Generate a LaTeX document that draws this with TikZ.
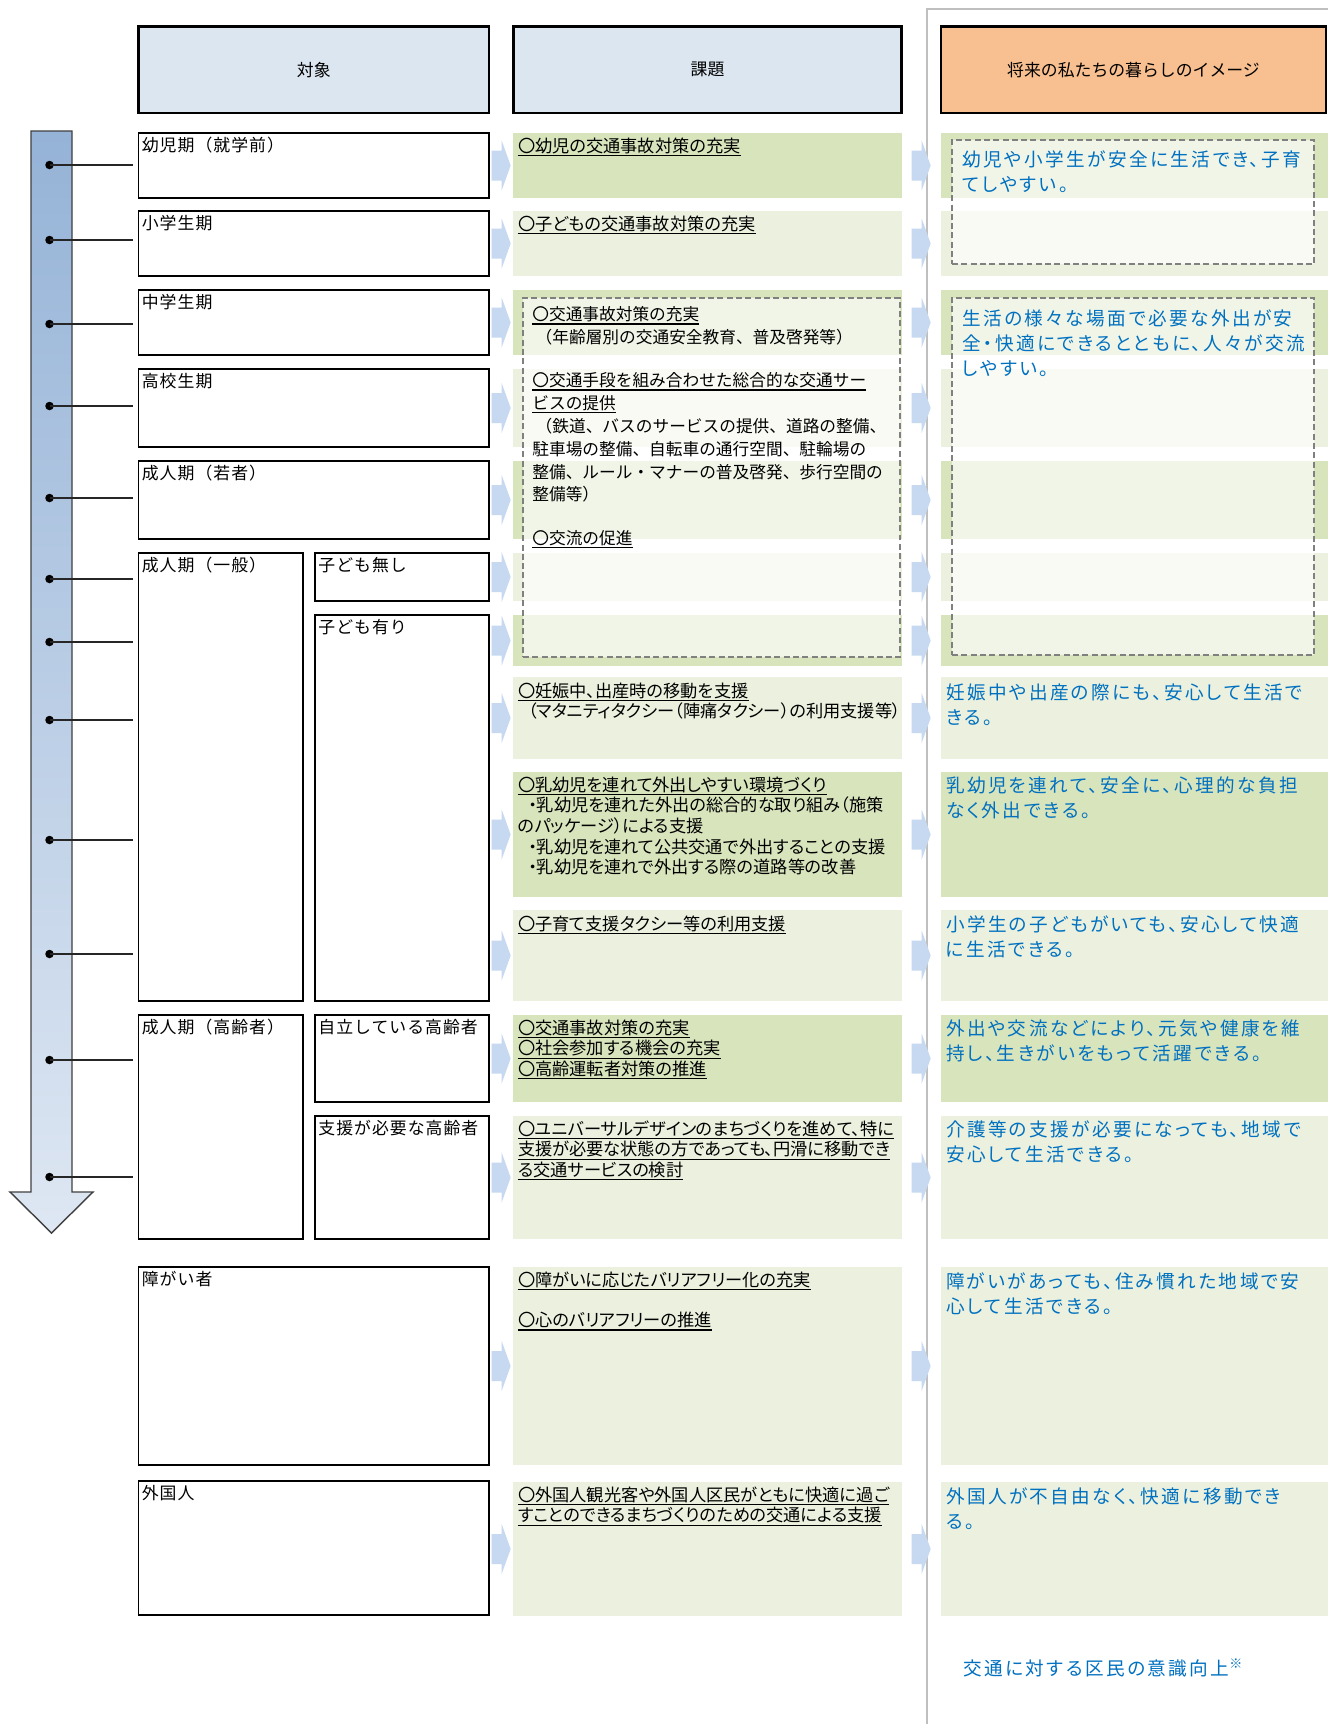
\documentclass[tikz,border=0pt]{standalone}
\usepackage{fontspec}
\setmainfont{Noto Sans CJK JP}
\newfontfamily\jpfont{Noto Sans CJK JP}
\newfontfamily\jplabelfont{Noto Sans CJK JP}[LetterSpace=6]
\newfontfamily\jpnarrowfont{Noto Sans CJK JP}[RawFeature=+palt]
\newfontfamily\jpbluefont{Noto Sans CJK JP}[RawFeature=+palt,LetterSpace=13]
\usetikzlibrary{fit}

\definecolor{headblue}{RGB}{220,230,241}
\definecolor{headorange}{RGB}{248,192,144}
\definecolor{darkgreen}{RGB}{216,228,188}
\definecolor{lightgreen}{RGB}{235,241,222}
\definecolor{chevblue}{RGB}{198,217,241}
\definecolor{textblue}{RGB}{0,112,192}
\definecolor{bartop}{RGB}{149,179,215}
\definecolor{barbottom}{RGB}{222,231,243}
\definecolor{framegray}{RGB}{191,191,191}

% underline set close under the glyphs
\newcommand{\ulx}[1]{\setbox0\hbox{#1}\rlap{\vrule height -1.5pt depth 2.2pt width \wd0}\box0}
% fixed height for the first line, so that north is 11pt above its baseline
\newcommand{\firstln}{\rule{0pt}{11pt}}

\begin{document}
\begin{tikzpicture}[x=0.02cm,y=-0.02cm]
    \tikzstyle{header}=[draw=black,line width=1.4pt,inner sep=0pt]
    \tikzstyle{htext}=[inner sep=0pt,font=\jpfont\fontsize{9.6pt}{11.7pt}\selectfont]
    \tikzstyle{target}=[draw=black,line width=1.1pt,fill=white,inner sep=0pt]
    \tikzstyle{band}=[draw=none,inner sep=0pt]
    \tikzstyle{dashbox}=[draw=black!50,line width=1.1pt,dash pattern=on 3.4pt off 1.9pt,fill=white,fill opacity=0.65,inner sep=0pt]
    \tikzstyle{dot}=[circle,fill=black,minimum size=0.17cm,inner sep=0pt]
    \tikzstyle{lbl}=[anchor=base west,inner sep=0pt,font=\jplabelfont\fontsize{9.6pt}{11.7pt}\selectfont]
    \tikzstyle{issue}=[anchor=north west,inner sep=0pt,align=left,font=\jpnarrowfont\fontsize{9.8pt}{11.7pt}\selectfont]
    \tikzstyle{vision}=[anchor=north west,inner sep=0pt,align=left,text=textblue,font=\jpbluefont\fontsize{10.6pt}{14.3pt}\selectfont]
    \tikzset{chevron/.pic={\fill[chevblue] (-19,-15) -- (-9,-15) -- (-9,-25) -- (0,0) -- (-9,25) -- (-9,15) -- (-19,15) -- cycle;}}

    \useasboundingbox (0,0) rectangle (1328,1724);
    \fill[white] (0,0) rectangle (1328,1724);

    % Frame round the future column
    \draw[framegray,line width=1.1pt] (927,1724) -- (927,9) -- (1328,9);

    % Column headers
    \node[header,fill=headblue,fit={(138.5,26.5) (489,113)}] (H-1) {};
    \node[header,fill=headblue,fit={(513.5,26.5) (901.5,113)}] (H-2) {};
    \node[header,fill=headorange,fit={(941,26.5) (1326,113)}] (H-3) {};
    \node[htext] (HT-1) at (H-1) {対象};
    \node[htext] (HT-2) at (H-2) {課題};
    \node[htext] (HT-3) at (H-3) {将来の私たちの暮らしのイメージ};

    % Life stage arrow
    \shade[top color=bartop,bottom color=barbottom,draw=black!75,line width=0.8pt]
        (31,131) -- (72,131) -- (72,1192) -- (93,1192) -- (51.5,1233) -- (10,1192) -- (31,1192) -- cycle;

    % Draw the issue and future bands, row by row
    \foreach \name/\ytop/\ybot/\tone in {1/133/198/darkgreen, 2/211/276/lightgreen, 3/290/355/darkgreen,
        4/369/447/lightgreen, 5/461/539/darkgreen, 6/553/601/lightgreen, 7/615/666/darkgreen,
        8/677/759/lightgreen, 9/772/897/darkgreen, 10/910/1001/lightgreen, 11/1015/1102/darkgreen,
        12/1116/1239/lightgreen, 13/1267/1465/lightgreen, 14/1482/1616/lightgreen}{
        \node[band,fill=\tone,fit={(513,\ytop) (902,\ybot)}] (K-\name) {};
        \node[band,fill=\tone,fit={(941,\ytop) (1328,\ybot)}] (S-\name) {};
        \pic at ([shift={(-2,0)}]K-\name.west) {chevron};
        \pic at ([shift={(-10,0)}]S-\name.west) {chevron};
    }

    % Dashed frames over shared rows
    \node[dashbox,fit={(523,298) (900,657)}] (KD) {};
    \node[dashbox,fit={(952,140) (1314,264)}] (SD-1) {};
    \node[dashbox,fit={(952,298) (1314,655)}] (SD-2) {};

    % Draw the target boxes
    \foreach \name/\ytop/\ybot/\stage in {1/133/198/幼児期（就学前）, 2/211/276/小学生期, 3/290/355/中学生期,
        4/369/447/高校生期, 5/461/539/成人期（若者）, 8/1267/1465/障がい者, 9/1481/1615/外国人}{
        \node[target,fit={(138.5,\ytop) (489,\ybot)}] (T-\name) {};
        \node[lbl] (L-\name) at ([shift={(4,19)}]T-\name.north west) {\stage};
    }
    \node[target,fit={(138.5,553) (303,1001)}] (T-6) {};
    \node[target,fit={(315,553) (489,601)}] (T-6a) {};
    \node[target,fit={(315,615) (489,1001)}] (T-6b) {};
    \node[target,fit={(138.5,1015) (303,1239)}] (T-7) {};
    \node[target,fit={(315,1015) (489,1102)}] (T-7a) {};
    \node[target,fit={(315,1116) (489,1239)}] (T-7b) {};
    \foreach \name/\stage in {6/成人期（一般）, 6a/子ども無し, 6b/子ども有り,
        7/成人期（高齢者）, 7a/自立している高齢者, 7b/支援が必要な高齢者}
        \node[lbl] (L-\name) at ([shift={(4,19)}]T-\name.north west) {\stage};

    % Dots on the arrow with leaders towards the stages
    \foreach \name/\y in {1/165, 2/240, 3/324, 4/406, 5/498, 6/579, 7/642,
        8/720, 9/840, 10/954, 11/1060, 12/1177}{
        \node[dot] (D-\name) at (49.5,\y) {};
        \coordinate (E-\name) at (133,\y);
        \draw[line width=0.7pt,black!85] (D-\name.center) -- (E-\name);
    }

    % Issues
    \node[issue] (KT-1) at ([shift={(5,0)}]K-1.north west) {\firstln\ulx{〇幼児の交通事故対策の充実}};
    \node[issue] (KT-2) at ([shift={(5,0)}]K-2.north west) {\firstln\ulx{〇子どもの交通事故対策の充実}};
    \node[issue,font=\jpfont\fontsize{9.5pt}{13pt}\selectfont] (KT-D) at ([shift={(10,4)}]KD.north west)
        {\firstln\ulx{〇交通事故対策の充実}\\
         \hspace*{0.2em}（年齢層別の交通安全教育、普及啓発等）\\[11.6pt]
         \ulx{〇交通手段を組み合わせた総合的な交通サー}\\
         \ulx{ビスの提供}\\
         \hspace*{0.2em}（鉄道、バスのサービスの提供、道路の整備、\\
         駐車場の整備、自転車の通行空間、駐輪場の\\
         整備、ルール・マナーの普及啓発、歩行空間の\\
         整備等）\\[11.6pt]
         \ulx{〇交流の促進}};
    \node[issue] (KT-8) at ([shift={(5,1)}]K-8.north west)
        {\firstln\ulx{〇妊娠中、出産時の移動を支援}\\
         \hspace*{0.6em}（マタニティタクシー（陣痛タクシー）の利用支援等）};
    \node[issue] (KT-9) at ([shift={(5,0)}]K-9.north west)
        {\firstln\ulx{〇乳幼児を連れて外出しやすい環境づくり}\\
         \hspace*{0.6em}・乳幼児を連れた外出の総合的な取り組み（施策\\
         のパッケージ）による支援\\
         \hspace*{0.6em}・乳幼児を連れて公共交通で外出することの支援\\
         \hspace*{0.6em}・乳幼児を連れで外出する際の道路等の改善};
    \node[issue] (KT-10) at ([shift={(5,1)}]K-10.north west) {\firstln\ulx{〇子育て支援タクシー等の利用支援}};
    \node[issue] (KT-11) at ([shift={(5,0)}]K-11.north west)
        {\firstln\ulx{〇交通事故対策の充実}\\
         \ulx{〇社会参加する機会の充実}\\
         \ulx{〇高齢運転者対策の推進}};
    \node[issue] (KT-12) at ([shift={(5,0)}]K-12.north west)
        {\firstln\ulx{〇ユニバーサルデザインのまちづくりを進めて、特に}\\
         \ulx{支援が必要な状態の方であっても、円滑に移動でき}\\
         \ulx{る交通サービスの検討}};
    \node[issue] (KT-13) at ([shift={(5,0)}]K-13.north west)
        {\firstln\ulx{〇障がいに応じたバリアフリー化の充実}\\[11.3pt]
         \ulx{〇心のバリアフリーの推進}};
    \node[issue] (KT-14) at ([shift={(5,0)}]K-14.north west)
        {\firstln\ulx{〇外国人観光客や外国人区民がともに快適に過ご}\\
         \ulx{すことのできるまちづくりのための交通による支援}};

    % Future images
    \node[vision] (ST-1) at ([shift={(11,8)}]SD-1.north west) {\firstln 幼児や小学生が安全に生活でき、子育\\てしやすい。};
    \node[vision] (ST-2) at ([shift={(11,9)}]SD-2.north west)
        {\firstln 生活の様々な場面で必要な外出が安\\全・快適にできるとともに、人々が交流\\しやすい。};
    \node[vision] (ST-8) at ([shift={(5,3)}]S-8.north west) {\firstln 妊娠中や出産の際にも、安心して生活で\\きる。};
    \node[vision] (ST-9) at ([shift={(5,1)}]S-9.north west) {\firstln 乳幼児を連れて、安全に、心理的な負担\\なく外出できる。};
    \node[vision] (ST-10) at ([shift={(5,2)}]S-10.north west) {\firstln 小学生の子どもがいても、安心して快適\\に生活できる。};
    \node[vision] (ST-11) at ([shift={(5,1)}]S-11.north west) {\firstln 外出や交流などにより、元気や健康を維\\持し、生きがいをもって活躍できる。};
    \node[vision] (ST-12) at ([shift={(5,1.5)}]S-12.north west) {\firstln 介護等の支援が必要になっても、地域で\\安心して生活できる。};
    \node[vision] (ST-13) at ([shift={(5,2.5)}]S-13.north west) {\firstln 障がいがあっても、住み慣れた地域で安\\心して生活できる。};
    \node[vision] (ST-14) at ([shift={(5,2)}]S-14.north west) {\firstln 外国人が不自由なく、快適に移動でき\\る。};
    \node[vision,anchor=base west] (ST-note) at (963,1675) {交通に対する区民の意識向上\textsuperscript{※}};
\end{tikzpicture}
\end{document}
